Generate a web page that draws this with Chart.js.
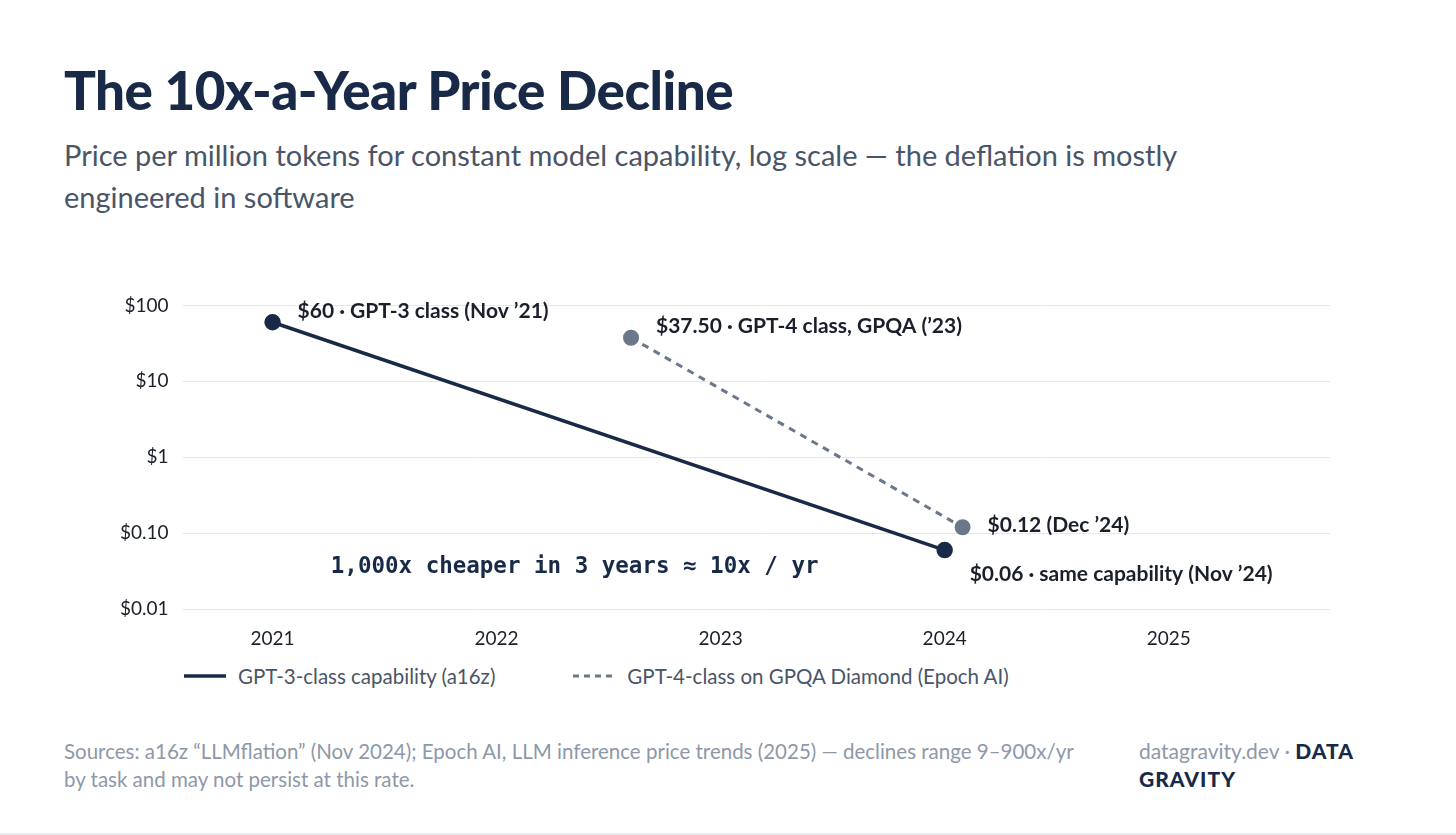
<!DOCTYPE html>
<html>
<head>
<meta charset="utf-8">
<script src="https://cdn.jsdelivr.net/npm/chart.js@4"></script>
<style>
body { margin:0; background:#fff; font-family:Lato, sans-serif; }
.page { position:relative; width:1456px; height:835px; overflow:hidden; }
h1 { position:absolute; left:64px; top:58px; margin:0; font-size:53px; font-weight:900; color:#182a47; letter-spacing:-0.5px; }
.sub { position:absolute; left:64px; top:134px; width:1190px; font-size:29px; line-height:42px; color:#4a5568; }
.chartbox { position:absolute; left:106px; top:280px; width:1234px; height:380px; }
.legend { position:absolute; left:184px; top:664px; font-size:20.5px; color:#4a5568; display:flex; gap:78px; }
.legend span { display:flex; align-items:center; gap:12px; }
.foot { position:absolute; left:64px; top:737px; width:1015px; font-size:20.5px; line-height:28px; color:#8e98a8; }
.brand { position:absolute; left:1139px; top:737px; width:260px; font-size:21px; line-height:28px; color:#8e98a8; }
.brand b { color:#182a47; font-weight:900; letter-spacing:1px; }
.rule { position:absolute; left:0; right:0; bottom:0; height:2px; background:#e6e8ec; }
</style>
</head>
<body>
<div class="page">
<h1>The 10x-a-Year Price Decline</h1>
<div class="sub">Price per million tokens for constant model capability, log scale — the deflation is mostly engineered in software</div>
<div class="chartbox"><canvas id="c"></canvas></div>
<div class="legend">
  <span><svg width="42" height="6"><line x1="0" y1="3" x2="42" y2="3" stroke="#182a47" stroke-width="3.5"/></svg>GPT-3-class capability (a16z)</span>
  <span><svg width="42" height="6"><line x1="0" y1="3" x2="42" y2="3" stroke="#6b778a" stroke-width="3" stroke-dasharray="6,5"/></svg>GPT-4-class on GPQA Diamond (Epoch AI)</span>
</div>
<div class="foot">Sources: a16z “LLMflation” (Nov 2024); Epoch AI, LLM inference price trends (2025) — declines range 9–900x/yr by task and may not persist at this rate.</div>
<div class="brand">datagravity.dev · <b>DATA GRAVITY</b></div>
<div class="rule"></div>
</div>
<script>
// series data
const gpt3X = [2021.0, 2024.0];
const gpt3Y = [60, 0.06];
const gpt3Labels = ['$60 · GPT-3 class (Nov ’21)', '$0.06 · same capability (Nov ’24)'];
const gpt4X = [2022.6, 2024.08];
const gpt4Y = [37.5, 0.12];
const gpt4Labels = ['$37.50 · GPT-4 class, GPQA (’23)', '$0.12 (Dec ’24)'];
const yTicks = [100, 10, 1, 0.1, 0.01];
const yTickLabels = ['$100', '$10', '$1', '$0.10', '$0.01'];
const xTicks = [2021, 2022, 2023, 2024, 2025];

const NAVY = '#182a47', SLATE = '#6b778a';

// labels next to points + the annotation
const labelPlugin = {
    id: 'pointLabels',
    afterDatasetsDraw(chart) {
        const ctx = chart.ctx;
        const x = chart.scales.x, y = chart.scales.y;
        ctx.save();
        ctx.font = 'bold 21px Lato';
        ctx.fillStyle = '#1a1f2b';
        ctx.textBaseline = 'middle';
        const put = (xv, yv, txt, dx, dy) => ctx.fillText(txt, x.getPixelForValue(xv) + dx, y.getPixelForValue(yv) + dy);
        put(gpt3X[0], gpt3Y[0], gpt3Labels[0], 25, -11);
        put(gpt3X[1], gpt3Y[1], gpt3Labels[1], 25, 24);
        put(gpt4X[0], gpt4Y[0], gpt4Labels[0], 25, -12);
        put(gpt4X[1], gpt4Y[1], gpt4Labels[1], 25, -2);
        ctx.font = 'bold 22.5px "DejaVu Sans Mono", monospace';
        ctx.fillStyle = NAVY;
        ctx.fillText('1,000x cheaper in 3 years ≈ 10x / yr', x.getPixelForValue(2021.26), y.getPixelForValue(0.036));
        ctx.restore();
    }
};

new Chart(document.getElementById('c'), {
    type: 'scatter',
    data: {
        datasets: [{
            data: gpt3X.map((v, i) => ({ x: v, y: gpt3Y[i] })),
            showLine: true,
            borderColor: NAVY,
            backgroundColor: NAVY,
            borderWidth: 3.5,
            pointRadius: 6.5
        }, {
            data: gpt4X.map((v, i) => ({ x: v, y: gpt4Y[i] })),
            showLine: true,
            borderColor: SLATE,
            backgroundColor: SLATE,
            borderWidth: 3,
            borderDash: [7, 6],
            pointRadius: 6.5
        }]
    },
    options: {
        responsive: true,
        maintainAspectRatio: false,
        animation: false,
        layout: { padding: { top: 15, right: 10 } },
        plugins: { legend: { display: false }, tooltip: { enabled: false } },
        scales: {
            x: {
                type: 'linear',
                min: 2020.634,
                max: 2025.72,
                afterBuildTicks: s => { s.ticks = xTicks.map(v => ({ value: v })); },
                ticks: { color: '#1a1f2b', font: { size: 19, family: 'Lato' }, padding: 10, callback: v => String(v) },
                grid: { display: false },
                border: { display: false }
            },
            y: {
                type: 'logarithmic',
                min: 0.01,
                max: 100,
                afterBuildTicks: s => { s.ticks = yTicks.map(v => ({ value: v })); },
                ticks: {
                    color: '#1a1f2b', font: { size: 19, family: 'Lato' }, padding: 14,
                    callback: v => yTickLabels[yTicks.findIndex(t => Math.abs(Math.log10(t) - Math.log10(v)) < 1e-6)]
                },
                grid: { color: '#e3e7ee', lineWidth: 1 },
                border: { display: false }
            }
        }
    },
    plugins: [labelPlugin]
});
</script>
</body>
</html>
